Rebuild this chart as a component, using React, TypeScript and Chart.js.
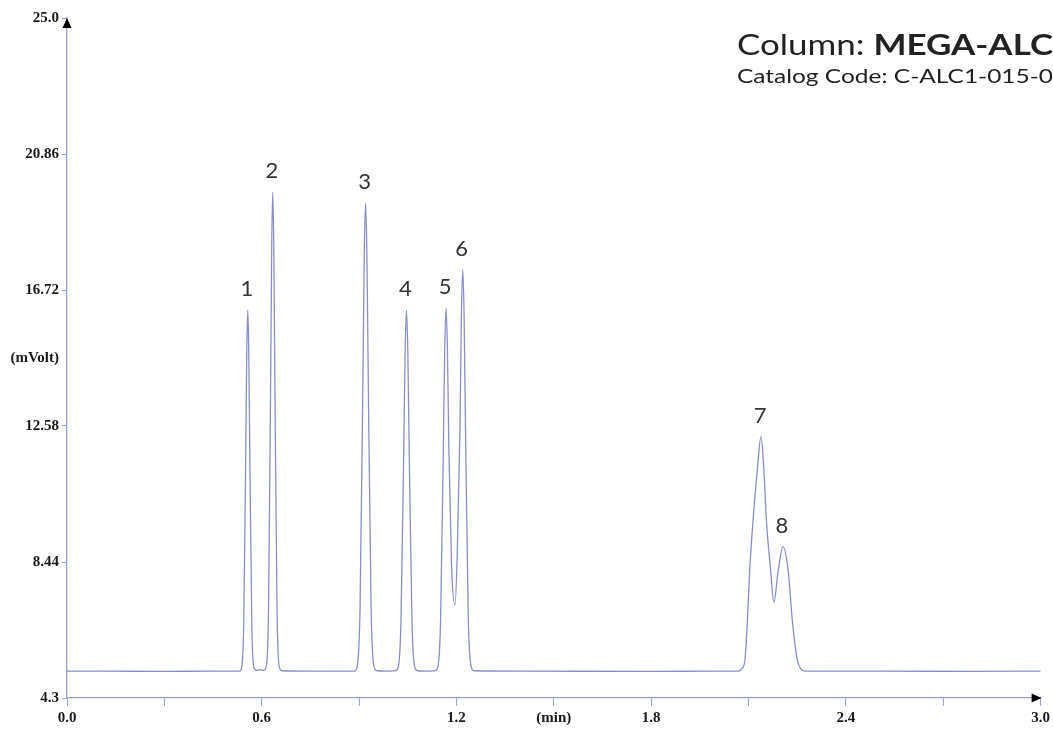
import React, { useEffect, useRef } from "react";
import { Chart, registerables } from "chart.js";

Chart.register(...registerables);

// Retention time (min)
const timeMin = [
  0.0, 0.1, 0.3, 0.45, 0.532, 0.5384, 0.5446, 0.5508, 0.5539, 0.557, 0.5601, 0.5632, 0.5694, 0.5756, 0.584,
  0.594, 0.606, 0.6145, 0.621, 0.6275, 0.63075, 0.634, 0.63725, 0.6405, 0.647, 0.6535, 0.662, 0.75,
  0.886, 0.8945, 0.903, 0.9115, 0.91575, 0.92, 0.92425, 0.9285, 0.937, 0.9455, 0.955, 0.983,
  1.012, 1.0205, 1.029, 1.0375, 1.04175, 1.046, 1.05025, 1.0545, 1.063, 1.0715, 1.08, 1.106,
  1.134, 1.1425, 1.151, 1.1595, 1.16375, 1.168, 1.17225, 1.1765, 1.185, 1.1954,
  1.2025, 1.2109, 1.21515, 1.2194, 1.22365, 1.2279, 1.2364, 1.2449, 1.2534, 1.4, 1.8, 2.0,
  2.07, 2.08, 2.089, 2.0965, 2.1037, 2.114, 2.127, 2.1385, 2.147, 2.155, 2.168, 2.178,
  2.1917, 2.206, 2.222, 2.2348, 2.2502, 2.2615, 2.274, 2.5, 2.8, 3.0,
];

// Detector signal (mVolt)
const signal = [
  5.12, 5.12, 5.11, 5.12, 5.12, 5.24, 6.6, 11.79, 14.82, 16.11, 14.82, 11.79, 6.6, 5.24, 5.14,
  5.16, 5.14, 5.28, 7.09, 13.96, 17.99, 19.7, 17.99, 13.96, 7.09, 5.28, 5.13, 5.12,
  5.12, 5.28, 7.05, 13.76, 17.7, 19.37, 17.7, 13.76, 7.05, 5.28, 5.13, 5.12,
  5.13, 5.24, 6.6, 11.78, 14.81, 16.1, 14.81, 11.78, 6.6, 5.24, 5.13, 5.12,
  5.13, 5.24, 6.62, 11.82, 14.87, 16.17, 14.9, 11.95, 8.3, 7.13,
  8.7, 12.5, 15.9, 17.33, 15.9, 12.5, 6.77, 5.27, 5.13, 5.12, 5.11, 5.12,
  5.12, 5.2, 5.46, 6.67, 8.2, 9.72, 11.24, 12.26, 11.3, 9.72, 8.2, 7.22,
  8.2, 8.91, 8.2, 6.67, 5.46, 5.18, 5.12, 5.12, 5.11, 5.12,
];

const peakNames = ["1", "2", "3", "4", "5", "6", "7", "8"];
const peakTimes = [0.557, 0.634, 0.92, 1.046, 1.168, 1.2194, 2.1385, 2.206];
const peakValues = [16.11, 19.7, 19.37, 16.1, 16.17, 17.33, 12.26, 8.91];

const xTickValues = [0, 0.3, 0.6, 0.9, 1.2, 1.5, 1.8, 2.1, 2.4, 2.7, 3.0];
const xTickLabels = ["0.0", "", "0.6", "", "1.2", "(min)", "1.8", "", "2.4", "", "3.0"];
const yTickValues = [4.3, 8.44, 12.58, 14.65, 16.72, 20.86, 25.0];
const yTickLabels = ["4.3", "8.44", "12.58", "(mVolt)", "16.72", "20.86", "25.0"];

const headerColumn = "Column: ";
const headerName = "MEGA-ALC";
const headerCatalog = "Catalog Code: C-ALC1-015-0";

const AXIS = "#9c9dd6";
const TRACE = "#8b8dd0";
const TICK_FONT = { family: "'Liberation Serif', 'Times New Roman', serif", size: 15, weight: "bold" as const };

const overlayPlugin = {
  id: "overlay",
  afterDraw(chart: any) {
    const { ctx, chartArea, scales } = chart;
    const xs = scales.x;
    const ys = scales.y;
    ctx.save();
    // arrows
    ctx.fillStyle = "#000";
    const left = chartArea.left;
    const top = chartArea.top;
    ctx.beginPath();
    ctx.moveTo(left, top);
    ctx.lineTo(left - 4.5, top + 10);
    ctx.lineTo(left + 4.5, top + 10);
    ctx.closePath();
    ctx.fill();
    const right = chartArea.right;
    const bottom = chartArea.bottom;
    ctx.beginPath();
    ctx.moveTo(right + 1, bottom);
    ctx.lineTo(right - 9, bottom - 4.5);
    ctx.lineTo(right - 9, bottom + 4.5);
    ctx.closePath();
    ctx.fill();

    // peak labels
    ctx.fillStyle = "#333";
    ctx.font = "22px Lato, 'Open Sans', sans-serif";
    ctx.textAlign = "center";
    ctx.textBaseline = "middle";
    peakNames.forEach((n, i) => {
      const px = xs.getPixelForValue(peakTimes[i]) - 1;
      const py = ys.getPixelForValue(peakValues[i]) - 21;
      ctx.fillText(n, px, py);
    });

    // header
    ctx.textAlign = "left";
    ctx.textBaseline = "alphabetic";
    ctx.fillStyle = "#222";
    const x0 = 737;
    const target = 316;
    ctx.font = "29px Lato, sans-serif";
    const w1 = ctx.measureText(headerColumn).width;
    ctx.font = "bold 29px Lato, sans-serif";
    const w2 = ctx.measureText(headerName).width;
    const s1 = target / (w1 + w2);
    ctx.save();
    ctx.translate(x0, 55);
    ctx.scale(s1, 1);
    ctx.font = "29px Lato, sans-serif";
    ctx.fillText(headerColumn, 0, 0);
    ctx.font = "bold 29px Lato, sans-serif";
    ctx.fillText(headerName, w1, 0);
    ctx.restore();

    ctx.font = "20px Lato, sans-serif";
    const w3 = ctx.measureText(headerCatalog).width;
    const s2 = target / w3;
    ctx.save();
    ctx.translate(x0, 83);
    ctx.scale(s2, 1);
    ctx.fillText(headerCatalog, 0, 0);
    ctx.restore();

    ctx.restore();
  },
};

export default function App() {
  const canvasRef = useRef<HTMLCanvasElement | null>(null);

  useEffect(() => {
    if (!canvasRef.current) return;
    const chart = new Chart(canvasRef.current, {
      type: "line",
      data: {
        datasets: [
          {
            data: timeMin.map((t, i) => ({ x: t, y: signal[i] })),
            borderColor: TRACE,
            borderWidth: 1.3,
            pointRadius: 0,
            cubicInterpolationMode: "monotone",
            fill: false,
          },
        ],
      },
      options: {
        responsive: false,
        animation: false,
        devicePixelRatio: 1,
        layout: { padding: { top: 18, right: 11, left: 0, bottom: 0 } },
        plugins: { legend: { display: false }, tooltip: { enabled: false } },
        scales: {
          x: {
            type: "linear",
            min: 0,
            max: 3.0,
            afterBuildTicks: (scale: any) => {
              scale.ticks = xTickValues.map((v) => ({ value: v }));
            },
            afterFit: (scale: any) => {
              scale.height = 38;
            },
            ticks: {
              autoSkip: false,
              maxRotation: 0,
              padding: 3,
              color: "#1a1a1a",
              font: TICK_FONT,
              callback: (_v: any, i: number) => xTickLabels[i],
            },
            grid: {
              drawOnChartArea: false,
              drawTicks: true,
              tickLength: 8,
              tickColor: AXIS,
              tickWidth: 1,
            },
            border: { color: AXIS, width: 1.3 },
          },
          y: {
            type: "linear",
            min: 4.3,
            max: 25.0,
            afterBuildTicks: (scale: any) => {
              scale.ticks = yTickValues.map((v) => ({ value: v }));
            },
            afterFit: (scale: any) => {
              scale.width = 67;
            },
            ticks: {
              autoSkip: false,
              padding: 3,
              color: "#1a1a1a",
              font: TICK_FONT,
              callback: (_v: any, i: number) => yTickLabels[i],
            },
            grid: {
              drawOnChartArea: false,
              drawTicks: true,
              tickLength: 5,
              tickWidth: 1,
              tickColor: (c: any) =>
                c.tick && c.tick.value === 14.65 ? "rgba(0,0,0,0)" : AXIS,
            },
            border: { color: AXIS, width: 1.3 },
          },
        },
      },
      plugins: [overlayPlugin],
    } as any);
    return () => chart.destroy();
  }, []);

  return (
    <div style={{ position: "absolute", left: 0, top: 0, width: 1053, height: 736, background: "#fff" }}>
      <canvas ref={canvasRef} width={1053} height={736} style={{ display: "block" }} />
    </div>
  );
}
